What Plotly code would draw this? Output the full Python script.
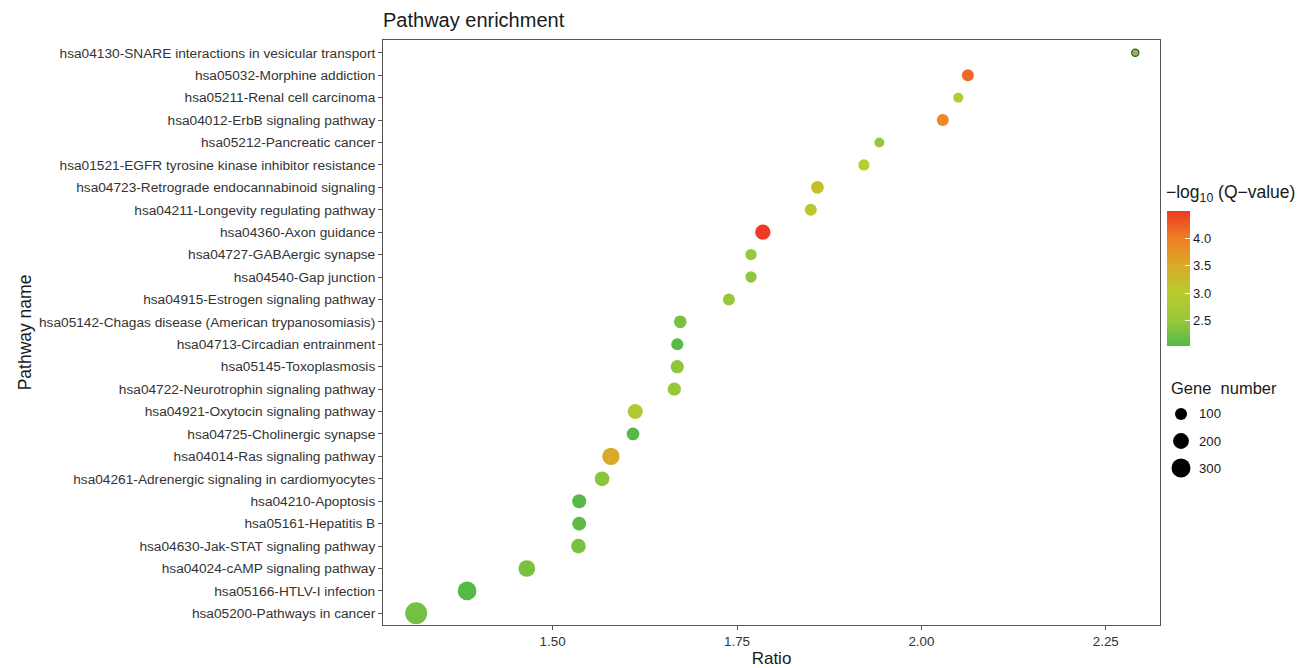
import numpy as np
import plotly.graph_objects as go

# ---------------- data (top to bottom as shown) ----------------
pathways = [
    "hsa04130-SNARE interactions in vesicular transport",
    "hsa05032-Morphine addiction",
    "hsa05211-Renal cell carcinoma",
    "hsa04012-ErbB signaling pathway",
    "hsa05212-Pancreatic cancer",
    "hsa01521-EGFR tyrosine kinase inhibitor resistance",
    "hsa04723-Retrograde endocannabinoid signaling",
    "hsa04211-Longevity regulating pathway",
    "hsa04360-Axon guidance",
    "hsa04727-GABAergic synapse",
    "hsa04540-Gap junction",
    "hsa04915-Estrogen signaling pathway",
    "hsa05142-Chagas disease (American trypanosomiasis)",
    "hsa04713-Circadian entrainment",
    "hsa05145-Toxoplasmosis",
    "hsa04722-Neurotrophin signaling pathway",
    "hsa04921-Oxytocin signaling pathway",
    "hsa04725-Cholinergic synapse",
    "hsa04014-Ras signaling pathway",
    "hsa04261-Adrenergic signaling in cardiomyocytes",
    "hsa04210-Apoptosis",
    "hsa05161-Hepatitis B",
    "hsa04630-Jak-STAT signaling pathway",
    "hsa04024-cAMP signaling pathway",
    "hsa05166-HTLV-I infection",
    "hsa05200-Pathways in cancer",
]
ratio = [2.290, 2.063, 2.050, 2.029, 1.943, 1.922, 1.859, 1.850, 1.785, 1.769,
         1.769, 1.739, 1.673, 1.669, 1.669, 1.665, 1.612, 1.609, 1.579, 1.567,
         1.536, 1.536, 1.535, 1.465, 1.384, 1.315]
neglog_q = [2.35, 4.15, 3.05, 3.90, 2.50, 3.00, 3.20, 3.05, 4.49, 2.50,
            2.45, 2.50, 2.30, 2.06, 2.45, 2.50, 2.85, 2.05, 3.50, 2.40,
            2.05, 2.10, 2.30, 2.30, 2.05, 2.25]
gene_number = [15, 100, 59, 100, 59, 85, 116, 100, 183, 85,
               85, 100, 116, 100, 130, 130, 175, 116, 243, 166,
               148, 148, 166, 224, 290, 413]
size_legend_values = [100, 200, 300]
x_ticks = [1.50, 1.75, 2.00, 2.25]
cbar_ticks = [2.5, 3.0, 3.5, 4.0]

# ---------------- styling helpers ----------------
FONT = "Arial, Liberation Sans, sans-serif"


def diam(n):
    n = np.asarray(n, dtype=float)
    return np.sqrt(np.clip(35.5 + 1.085 * n, 36, None))


colorscale = [
    [0.00, "#55B947"],
    [0.19, "#98C83B"],
    [0.39, "#B9CB2E"],
    [0.60, "#D9A927"],
    [0.80, "#EF7E23"],
    [1.00, "#EE3A24"],
]

W, H = 1301, 668
L, R, T, B = 383, 1160, 40, 625
pw, ph = R - L, B - T


def px_x(px):
    return (px - L) / pw


def px_y(py):
    return (B - py) / ph


gmin = min(gene_number)
line_w = [1.2 if g == gmin else 0 for g in gene_number]

fig = go.Figure()
fig.add_trace(go.Scatter(
    x=ratio, y=pathways, mode="markers",
    marker=dict(
        size=diam(gene_number), sizemode="diameter",
        color=neglog_q, colorscale=colorscale, cmin=2.04, cmax=4.49,
        opacity=1,
        line=dict(width=line_w, color="#4a4a4a"),
        colorbar=dict(
            xref="paper", yref="paper",
            x=px_x(1167), xanchor="left",
            y=px_y(211), yanchor="top",
            len=135, lenmode="pixels",
            thickness=23, thicknessmode="pixels",
            xpad=0, ypad=0, outlinewidth=0,
            tickvals=cbar_ticks, ticktext=[f"{v:.1f}" for v in cbar_ticks],
            ticks="inside", ticklen=5, tickcolor="white", tickwidth=1,
            tickfont=dict(family=FONT, size=13, color="#1a1a1a"),
        ),
    ),
    showlegend=False, hoverinfo="x+y",
))

shapes = []
annotations = []
# colourbar title
annotations.append(dict(
    xref="paper", yref="paper", x=px_x(1164), y=px_y(194),
    xanchor="left", yanchor="middle", showarrow=False,
    text="\u2212log<sub>10</sub> (Q\u2212value)",
    font=dict(family=FONT, size=17.5, color="#1a1a1a"),
))
# size legend
annotations.append(dict(
    xref="paper", yref="paper", x=px_x(1169), y=px_y(388),
    xanchor="left", yanchor="middle", showarrow=False,
    text="Gene  number", font=dict(family=FONT, size=16.5, color="#1a1a1a"),
))
for i, v in enumerate(size_legend_values):
    cy_px = 414 + 27 * i
    r = float(diam(v)) / 2
    shapes.append(dict(
        type="circle", xref="paper", yref="paper",
        xsizemode="pixel", ysizemode="pixel",
        xanchor=px_x(1181), yanchor=px_y(cy_px), x0=-r, x1=r, y0=-r, y1=r,
        fillcolor="black", line=dict(width=0),
    ))
    annotations.append(dict(
        xref="paper", yref="paper", x=px_x(1197), y=px_y(cy_px),
        xanchor="left", yanchor="middle", showarrow=False,
        text=str(v), font=dict(family=FONT, size=13.2, color="#1a1a1a"),
    ))

fig.update_layout(
    width=W, height=H,
    margin=dict(l=L, r=W - R, t=T, b=H - B, autoexpand=False),
    paper_bgcolor="white", plot_bgcolor="white",
    font=dict(family=FONT, color="#1a1a1a"),
    title=dict(text="Pathway enrichment", x=L / W, xanchor="left",
               y=1 - 20 / H, yanchor="middle",
               font=dict(family=FONT, size=20, color="#1a1a1a")),
    shapes=shapes, annotations=annotations,
)
fig.update_xaxes(
    range=[1.270, 2.3235], tickvals=x_ticks,
    ticktext=[f"{v:.2f}" for v in x_ticks],
    showgrid=False, zeroline=False,
    showline=True, linecolor="#555555", linewidth=1, mirror=True,
    ticks="outside", ticklen=4, tickcolor="#555555",
    tickfont=dict(family=FONT, size=13.4, color="#333333"),
    title=dict(text="Ratio", font=dict(family=FONT, size=17, color="#1a1a1a"),
               standoff=4),
    automargin=False,
)
fig.update_yaxes(
    categoryorder="array", categoryarray=pathways[::-1],
    range=[-0.52, len(pathways) - 0.43],
    showgrid=False, zeroline=False,
    showline=True, linecolor="#555555", linewidth=1, mirror=True,
    ticks="outside", ticklen=4, tickcolor="#555555",
    tickfont=dict(family=FONT, size=13.7, color="#333333"),
    title=dict(text="Pathway name", font=dict(family=FONT, size=17.5, color="#1a1a1a"),
               standoff=2),
    automargin=False,
)

fig.write_html("out.html",
               config={"displayModeBar": False},
               post_script="document.body.style.margin='0';document.body.style.overflow='hidden';")
